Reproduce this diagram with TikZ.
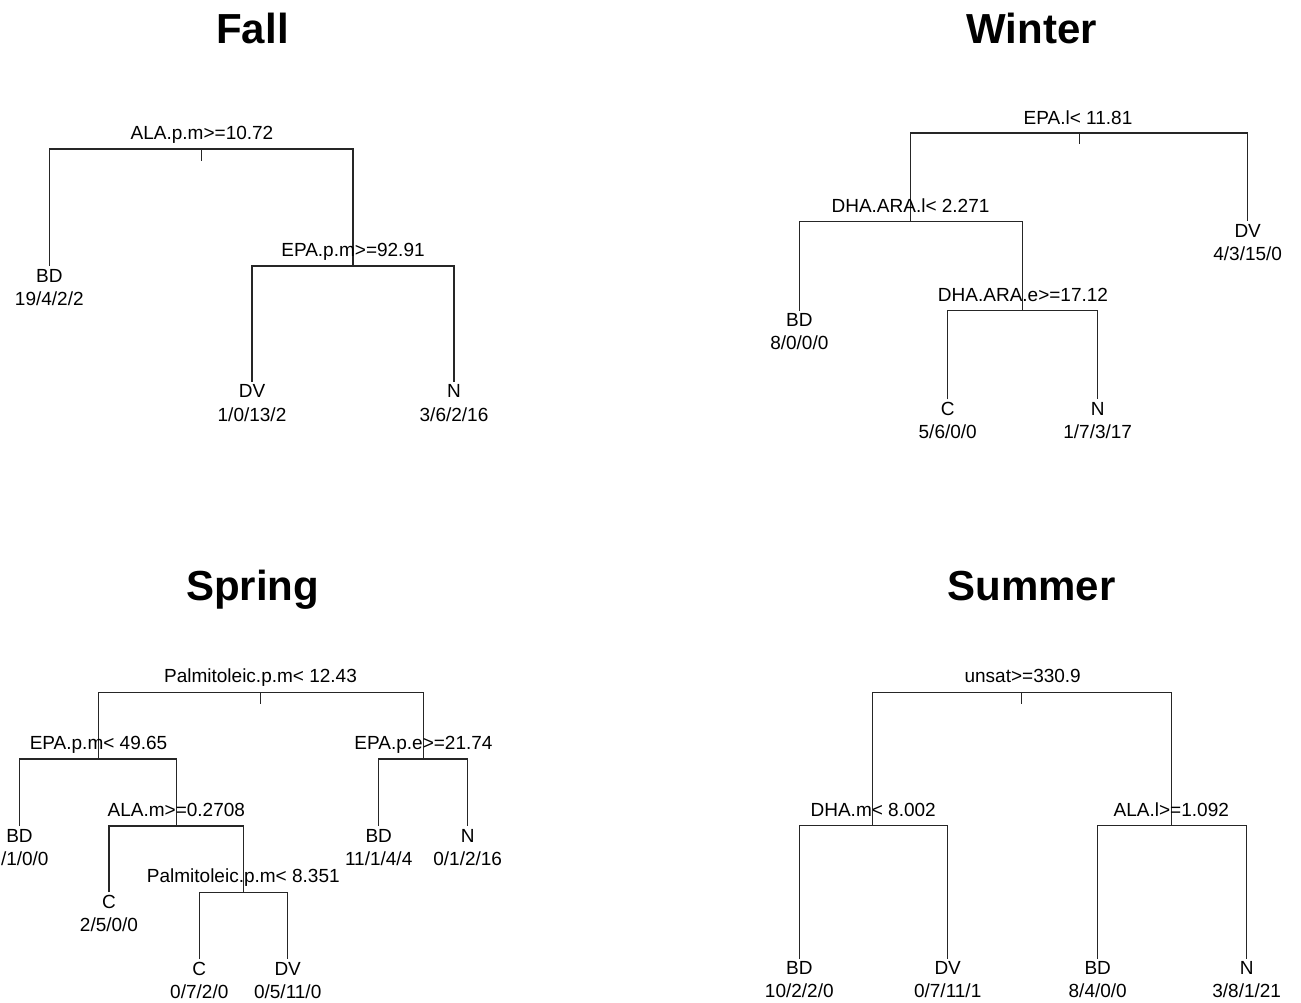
\documentclass[tikz,border=0pt]{standalone}
\usepackage{fontspec}
\setmainfont{Liberation Sans}
\begin{document}
\begin{tikzpicture}[x=1pt,y=-1pt,
  br/.style={line width=1.1pt, draw=black!85},
  lab/.style={anchor=base, inner sep=0pt, font=\fontsize{19}{19}\selectfont},
  ttl/.style={anchor=base, inner sep=0pt, font=\fontsize{42}{42}\selectfont\bfseries}]
\useasboundingbox (0,0) rectangle (1301,1002);

% ---------------- Fall ----------------
\node[ttl] (tf) at (252.5,43.5) {Fall};
\coordinate (f0) at (201.2,149);
\coordinate (f0t) at (201.2,161);
\coordinate (f1) at (49.3,266);
\coordinate (f2) at (353,266);
\coordinate (f3) at (252,381.7);
\coordinate (f4) at (454,381.7);
\draw[br] (f1) |- (f0) -| (f2);
\draw[br] (f0) -- (f0t);
\draw[br] (f3) |- (f2) -| (f4);
\node[lab] (f0l) at (202,139) {ALA.p.m>=10.72};
\node[lab] (f2l) at (353,256) {EPA.p.m>=92.91};
\node[lab] (f1a) at (49.3,282) {BD};
\node[lab] (f1b) at (49.3,305.3) {19/4/2/2};
\node[lab] (f3a) at (252,397.7) {DV};
\node[lab] (f3b) at (252,421) {1/0/13/2};
\node[lab] (f4a) at (454,397.7) {N};
\node[lab] (f4b) at (454,421) {3/6/2/16};

% ---------------- Winter ----------------
\node[ttl] (tw) at (1031.5,43.5) {Winter};
\coordinate (w0) at (1079.2,133);
\coordinate (w0t) at (1079.2,144);
\coordinate (w1) at (910.7,221.3);
\coordinate (w6) at (1247.7,221.3);
\coordinate (w2) at (799.3,310.5);
\coordinate (w3) at (1022.7,310.5);
\coordinate (w4) at (947.7,399.3);
\coordinate (w5) at (1097.7,399.3);
\draw[br] (w1) |- (w0) -| (w6);
\draw[br] (w0) -- (w0t);
\draw[br] (w2) |- (w1) -| (w3);
\draw[br] (w4) |- (w3) -| (w5);
\node[lab] (w0l) at (1078,124) {EPA.l< 11.81};
\node[lab] (w1l) at (910.5,212) {DHA.ARA.l< 2.271};
\node[lab] (w3l) at (1023,301) {DHA.ARA.e>=17.12};
\node[lab] (w6a) at (1247.7,237.3) {DV};
\node[lab] (w6b) at (1247.7,260.6) {4/3/15/0};
\node[lab] (w2a) at (799.3,326.5) {BD};
\node[lab] (w2b) at (799.3,349.8) {8/0/0/0};
\node[lab] (w4a) at (947.7,415.3) {C};
\node[lab] (w4b) at (947.7,438.6) {5/6/0/0};
\node[lab] (w5a) at (1097.7,415.3) {N};
\node[lab] (w5b) at (1097.7,438.6) {1/7/3/17};

% ---------------- Spring ----------------
\node[ttl] (ts) at (252.5,600) {Spring};
\coordinate (s0) at (260.8,692.3);
\coordinate (s0t) at (260.8,703.5);
\coordinate (s1) at (98.3,759);
\coordinate (s8) at (423.3,759);
\coordinate (s2) at (19.5,826);
\coordinate (s3) at (176.3,826);
\coordinate (s4) at (109,892.3);
\coordinate (s5) at (243.8,892.3);
\coordinate (s6) at (199.3,959);
\coordinate (s7) at (287.7,959);
\coordinate (s9) at (378.7,826);
\coordinate (s10) at (467.7,826);
\draw[br] (s1) |- (s0) -| (s8);
\draw[br] (s0) -- (s0t);
\draw[br] (s2) |- (s1) -| (s3);
\draw[br] (s4) |- (s3) -| (s5);
\draw[br] (s6) |- (s5) -| (s7);
\draw[br] (s9) |- (s8) -| (s10);
\node[lab] (s0l) at (260.5,682) {Palmitoleic.p.m< 12.43};
\node[lab] (s1l) at (98.5,749) {EPA.p.m< 49.65};
\node[lab] (s3l) at (176.3,816) {ALA.m>=0.2708};
\node[lab] (s5l) at (243.3,882.3) {Palmitoleic.p.m< 8.351};
\node[lab] (s8l) at (423.5,749) {EPA.p.e>=21.74};
\node[lab] (s2a) at (19.5,842) {BD};
\node[lab] (s2b) at (19.5,865.3) {7/1/0/0};
\node[lab] (s4a) at (109,908.3) {C};
\node[lab] (s4b) at (109,931.6) {2/5/0/0};
\node[lab] (s6a) at (199.3,975) {C};
\node[lab] (s6b) at (199.3,998.3) {0/7/2/0};
\node[lab] (s7a) at (287.7,975) {DV};
\node[lab] (s7b) at (287.7,998.3) {0/5/11/0};
\node[lab] (s9a) at (378.7,842) {BD};
\node[lab] (s9b) at (378.7,865.3) {11/1/4/4};
\node[lab] (s10a) at (467.7,842) {N};
\node[lab] (s10b) at (467.7,865.3) {0/1/2/16};

% ---------------- Summer ----------------
\node[ttl] (tu) at (1031.5,600) {Summer};
\coordinate (u0) at (1021.8,692.3);
\coordinate (u0t) at (1021.8,704);
\coordinate (u1) at (872.7,825.7);
\coordinate (u4) at (1171.5,825.7);
\coordinate (u2) at (799.3,958.5);
\coordinate (u3) at (947.7,958.5);
\coordinate (u5) at (1097.7,958.5);
\coordinate (u6) at (1246.7,958.5);
\draw[br] (u1) |- (u0) -| (u4);
\draw[br] (u0) -- (u0t);
\draw[br] (u2) |- (u1) -| (u3);
\draw[br] (u5) |- (u4) -| (u6);
\node[lab] (u0l) at (1022.7,682) {unsat>=330.9};
\node[lab] (u1l) at (873.2,816) {DHA.m< 8.002};
\node[lab] (u4l) at (1171.3,816) {ALA.l>=1.092};
\node[lab] (u2a) at (799.3,974.5) {BD};
\node[lab] (u2b) at (799.3,997.8) {10/2/2/0};
\node[lab] (u3a) at (947.7,974.5) {DV};
\node[lab] (u3b) at (947.7,997.8) {0/7/11/1};
\node[lab] (u5a) at (1097.7,974.5) {BD};
\node[lab] (u5b) at (1097.7,997.8) {8/4/0/0};
\node[lab] (u6a) at (1246.7,974.5) {N};
\node[lab] (u6b) at (1246.7,997.8) {3/8/1/21};
\end{tikzpicture}
\end{document}
